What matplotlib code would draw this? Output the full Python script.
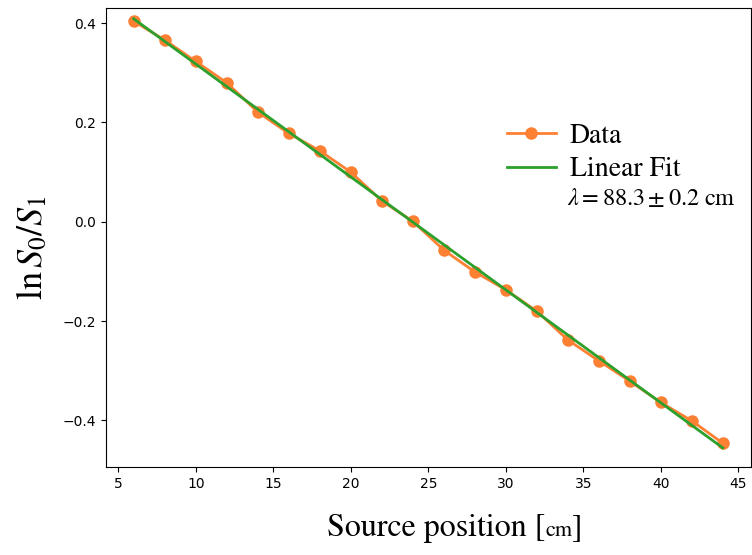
import numpy as np
import matplotlib
matplotlib.use("Agg")
import matplotlib.pyplot as plt
from matplotlib.offsetbox import TextArea, HPacker, AnchoredOffsetbox

# ---- data ----
position_cm = [6, 8, 10, 12, 14, 16, 18, 20, 22, 24, 26, 28, 30, 32, 34, 36, 38, 40, 42, 44]
ln_ratio = [0.404, 0.366, 0.323, 0.280, 0.221, 0.178, 0.143, 0.100, 0.042, 0.001,
            -0.057, -0.101, -0.137, -0.180, -0.238, -0.280, -0.321, -0.364, -0.401, -0.446]
series_labels = ["Data", "Linear Fit"]
fit_note = r"$\lambda = 88.3 \pm 0.2\ \mathrm{cm}$"
xticks = [5, 10, 15, 20, 25, 30, 35, 40, 45]
yticks = [-0.4, -0.2, 0.0, 0.2, 0.4]

plt.rcParams['mathtext.fontset'] = 'stix'

W, H = 752, 555
fig = plt.figure(figsize=(W / 100, H / 100), dpi=100)
ax = fig.add_axes([106 / W, 1 - 467 / H, (751 - 106) / W, (467 - 8.3) / H])

x = np.array(position_cm, dtype=float)
y = np.array(ln_ratio, dtype=float)
coef = np.polyfit(x, y, 1)

ax.plot(x, y, '-o', color='#fd8033', lw=2, ms=8, label=series_labels[0], zorder=2)
ax.plot(x, np.polyval(coef, x), '-', color='#2ca02c', lw=2, label=series_labels[1], zorder=3)

ax.set_xlim(4.21, 45.82)
ax.set_ylim(-0.494, 0.430)
ax.set_xticks(xticks)
ax.set_yticks(yticks)

leg = ax.legend(loc='upper left', bbox_to_anchor=(496 / W, 1 - 112 / H),
                bbox_transform=fig.transFigure, frameon=False,
                prop={'family': 'STIXGeneral', 'size': 20},
                handlelength=1.75, handletextpad=0.5, labelspacing=0.3, borderaxespad=0)

fig.text(567 / W, 1 - 198 / H, fit_note, fontsize=17.5, ha='left', va='center')

# y label
fig.text(32 / W, 1 - 248 / H, r"$\ln S_0/S_1$", fontsize=26, rotation=90,
         ha='center', va='center')

# x label with smaller unit
tp_big = dict(family='STIXGeneral', size=23)
tp_small = dict(family='STIXGeneral', size=16)
box = HPacker(children=[TextArea("Source position [", textprops=tp_big),
                        TextArea("cm", textprops=tp_small),
                        TextArea("]", textprops=tp_big)],
              align="baseline", pad=0, sep=0)
anch = AnchoredOffsetbox(loc='center', child=box, pad=0, borderpad=0, frameon=False,
                         bbox_to_anchor=(455 / W, 1 - 528 / H),
                         bbox_transform=fig.transFigure)
fig.add_artist(anch)

fig.savefig("out.png", dpi=100)
